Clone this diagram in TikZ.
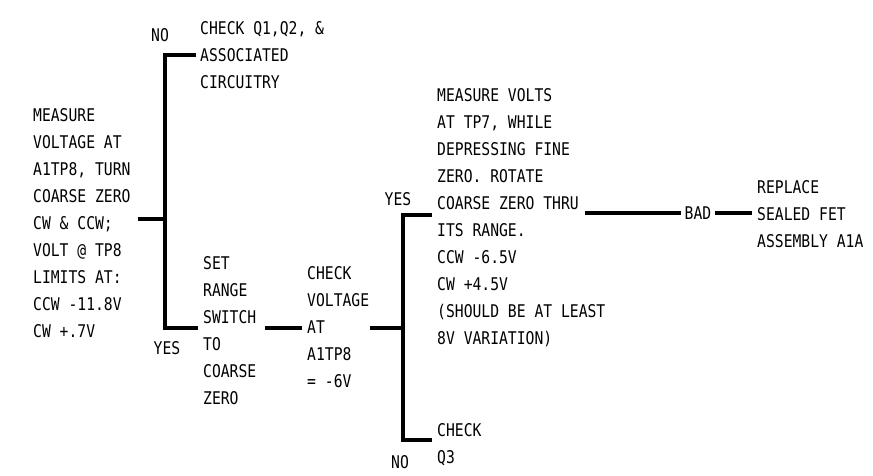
\documentclass[tikz,border=0pt]{standalone}
\usepackage{fontspec}
\newfontfamily\scanfont[FakeStretch=0.84]{DejaVu Sans Mono}
\begin{document}
\begin{tikzpicture}[x=1pt,y=-1pt,
  txt/.style={font=\scanfont\fontsize{17.5}{27}\selectfont, align=left, inner sep=0pt, anchor=north west},
  lbl/.style={font=\scanfont\fontsize{17.5}{27}\selectfont, inner sep=4pt, anchor=center},
  bus/.style={line width=4.5pt, line join=miter}]
\fill[white] (0,0) rectangle (873,475);
\useasboundingbox (0,0) rectangle (873,475);
% text blocks
\node[txt] (m1) at (33,108.5) {MEASURE\\VOLTAGE AT\\A1TP8, TURN\\COARSE ZERO\\CW \& CCW;\\VOLT @ TP8\\LIMITS AT:\\CCW -11.8V\\CW +.7V};
\node[txt] (q12) at (200,21.5) {CHECK Q1,Q2, \&\\ASSOCIATED\\CIRCUITRY};
\node[txt] (set) at (203,256.5) {SET\\RANGE\\SWITCH\\TO\\COARSE\\ZERO};
\node[txt] (chk) at (307,266.5) {CHECK\\VOLTAGE\\AT\\A1TP8\\= -6V};
\node[txt] (mv) at (437,88.5) {MEASURE VOLTS\\AT TP7, WHILE\\DEPRESSING FINE\\ZERO. ROTATE\\COARSE ZERO THRU\\ITS RANGE.\\CCW -6.5V\\CW +4.5V\\(SHOULD BE AT LEAST\\8V VARIATION)};
\node[txt] (q3) at (437,423.5) {CHECK\\Q3};
\node[txt] (rep) at (757,180.5) {REPLACE\\SEALED FET\\ASSEMBLY A1A};
% labels
\node[lbl] (no1) at (160,35) {NO};
\node[lbl] (yes1) at (167,348) {YES};
\node[lbl] (yes2) at (398,199) {YES};
\node[lbl] (no2) at (400,462) {NO};
\node[lbl] (bad) at (698,213) {BAD};
% junction coordinates
\coordinate (a1) at (138,219);
\coordinate (j1) at (165,219);
\coordinate (t1) at (196,55);
\coordinate (c1t) at (165,55);
\coordinate (c1b) at (165,328);
\coordinate (s1) at (198,328);
\coordinate (s2) at (265,328);
\coordinate (k1) at (302,328);
\coordinate (k2) at (370,328);
\coordinate (j2) at (403,328);
\coordinate (t2) at (432,215);
\coordinate (c2t) at (403,215);
\coordinate (c2b) at (403,440);
\coordinate (b2) at (432,440);
\coordinate (mvout) at (585,213);
\coordinate (repin) at (752,213);
% connectors
\draw[bus] (a1) -- (j1);
\draw[bus] (t1) -- (c1t) -- (c1b) -- (s1);
\draw[bus] (s2) -- (k1);
\draw[bus] (k2) -- (j2);
\draw[bus] (t2) -- (c2t) -- (c2b) -- (b2);
\draw[bus] (mvout) -- (bad.west);
\draw[bus] (bad.east) -- (repin);
\end{tikzpicture}
\end{document}
